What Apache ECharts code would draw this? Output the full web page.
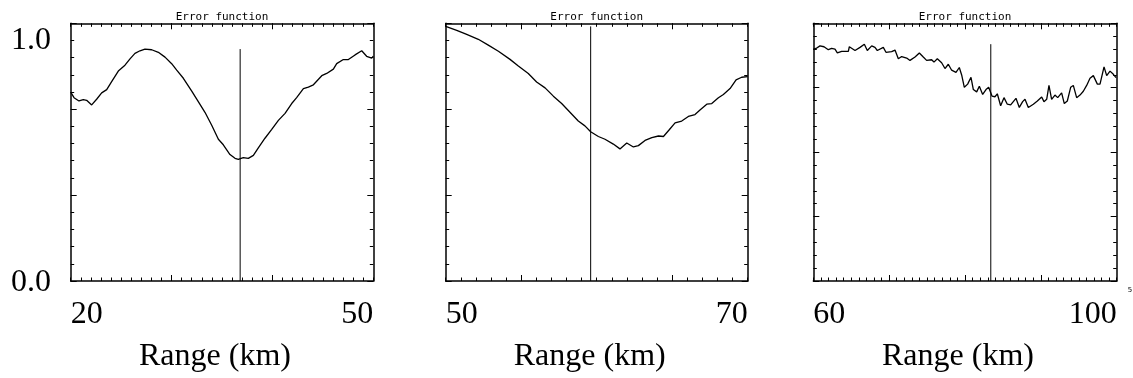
<!DOCTYPE html>
<html><head><meta charset="utf-8">
<script src="https://cdn.jsdelivr.net/npm/echarts@6/dist/echarts.min.js"></script>
<style>html,body{margin:0;padding:0;background:#fff}#c{width:1133px;height:378px}</style>
</head><body><div id="c"></div>
<script>
// ---- data ----
const range1 = [20.0,20.33,20.82,21.25,21.58,22.08,22.57,23.07,23.57,24.06,24.72,25.38,25.88,26.37,26.87,27.36,28.03,28.69,29.35,30.01,30.51,31.17,32.0,32.65,33.31,33.98,34.64,35.13,35.79,36.29,36.62,37.11,37.61,38.11,38.6,39.26,39.93,40.59,41.25,41.91,42.4,43.07,43.56,44.06,44.89,45.38,46.04,46.37,47.03,47.53,48.19,48.85,49.34,49.84,50.0];
const err1 = [1.099,1.067,1.048,1.056,1.052,1.025,1.058,1.095,1.114,1.161,1.222,1.256,1.293,1.325,1.34,1.35,1.346,1.331,1.303,1.265,1.227,1.18,1.105,1.044,0.982,0.907,0.825,0.793,0.736,0.714,0.708,0.718,0.714,0.731,0.775,0.831,0.882,0.935,0.976,1.033,1.067,1.12,1.129,1.142,1.195,1.208,1.233,1.265,1.289,1.289,1.316,1.34,1.308,1.297,1.308];

const range2 = [50.0,50.73,51.39,52.16,52.82,53.49,54.26,54.81,55.47,56.02,56.58,57.13,57.68,58.23,58.78,59.22,59.6,60.11,60.55,61.1,61.54,61.99,62.43,62.76,63.2,63.65,64.09,64.42,64.82,65.19,65.63,66.07,66.51,66.84,67.29,67.62,68.06,68.39,68.83,69.23,69.6,70.0];
const err2 = [1.482,1.459,1.435,1.407,1.373,1.337,1.29,1.252,1.208,1.158,1.124,1.076,1.033,0.982,0.931,0.903,0.869,0.841,0.825,0.797,0.769,0.803,0.78,0.788,0.818,0.835,0.844,0.841,0.882,0.92,0.931,0.958,0.969,0.995,1.029,1.033,1.067,1.086,1.12,1.171,1.186,1.19];

const range3 = [60.0,60.36,60.88,61.41,61.98,62.42,62.86,63.17,63.74,64.62,64.75,65.5,66.16,66.73,67.12,67.7,68.13,68.44,69.23,69.58,70.33,70.77,71.21,71.65,72.31,72.75,73.41,73.98,74.5,74.94,75.6,75.91,76.35,76.92,77.36,77.8,78.24,78.81,79.25,79.56,79.91,80.35,80.79,81.1,81.54,81.89,82.33,82.77,83.12,83.56,83.95,84.26,84.7,85.14,85.58,86.02,86.72,87.16,87.6,87.91,88.35,89.01,89.54,90.11,90.41,90.77,91.07,91.42,91.86,92.22,92.74,93.09,93.49,93.93,94.28,94.72,95.16,95.6,96.04,96.48,96.92,97.45,97.8,98.33,98.68,99.12,99.56,99.91];
const err3 = [1.8,1.805,1.825,1.818,1.795,1.805,1.8,1.77,1.782,1.782,1.818,1.789,1.813,1.838,1.789,1.825,1.813,1.789,1.813,1.775,1.78,1.792,1.725,1.742,1.73,1.712,1.738,1.77,1.738,1.712,1.717,1.699,1.725,1.694,1.649,1.682,1.636,1.619,1.657,1.599,1.503,1.528,1.581,1.486,1.468,1.511,1.448,1.486,1.503,1.435,1.43,1.453,1.36,1.423,1.372,1.367,1.418,1.347,1.392,1.41,1.347,1.372,1.397,1.428,1.392,1.41,1.518,1.41,1.443,1.423,1.46,1.377,1.397,1.503,1.518,1.423,1.443,1.473,1.518,1.574,1.594,1.528,1.528,1.662,1.594,1.629,1.604,1.579];

const cuts = [36.8, 59.6, 83.4];
const xLimits = [[20, 50], [50, 70], [60, 100]];
const xMajorTicks = [[30, 40], [55, 65], [70, 80, 90]];
const yMaxes = [1.5, 1.5, 2.0];
const yTickLabels = ['1.0', '0.0'];
const titleText = 'Error function';
const xName = 'Range (km)';

// ---- chart ----
const ranges = [range1, range2, range3];
const errs = [err1, err2, err3];
const grids = [
  {left: 70.7, top: 23.3, width: 302.6, height: 265.2},
  {left: 445.7, top: 23.3, width: 302, height: 265.2},
  {left: 813.3, top: 23.3, width: 303.4, height: 265.2}
];
const serif = '"Liberation Serif", "Times New Roman", serif';
const lineStyle = {color: '#000', width: 1.5};
const xAxes = [], yAxes = [], series = [], titles = [];

grids.forEach((g, i) => {
  const [mn, mx] = xLimits[i];
  const base = {type: 'value', gridIndex: i, min: mn, max: mx, interval: 1, splitLine: {show: false}};
  const tick = (len, custom) => Object.assign({show: true, inside: true, length: len,
    lineStyle: {color: '#000', width: 1}}, custom ? {customValues: custom} : {});
  // bottom: minor ticks + labels + name
  xAxes.push(Object.assign({}, base, {
    position: 'bottom',
    axisLine: {show: true, onZero: false, lineStyle},
    axisTick: tick(3.5),
    axisLabel: {show: true, customValues: [mn, mx], alignMinLabel: 'left', alignMaxLabel: 'right',
      color: '#000', fontFamily: serif, fontSize: 32, margin: 18},
    name: xName, nameLocation: 'middle', nameGap: 60,
    nameTextStyle: {color: '#000', fontFamily: serif, fontSize: 32, padding: [0, 14, 0, 0]}
  }));
  // top: minor ticks
  xAxes.push(Object.assign({}, base, {
    position: 'top',
    axisLine: {show: true, onZero: false, lineStyle},
    axisTick: tick(3.5),
    axisLabel: {show: false}
  }));
  // bottom major ticks
  xAxes.push(Object.assign({}, base, {
    position: 'bottom',
    axisLine: {show: false, onZero: false},
    axisTick: tick(6, xMajorTicks[i]),
    axisLabel: {show: false}
  }));
  // top major ticks
  xAxes.push(Object.assign({}, base, {
    position: 'top',
    axisLine: {show: false, onZero: false},
    axisTick: tick(6, xMajorTicks[i]),
    axisLabel: {show: false}
  }));
  const ybase = {type: 'value', gridIndex: i, min: 0, max: yMaxes[i], interval: 0.5,
    splitLine: {show: false}, axisLabel: {show: false},
    axisLine: {show: true, onZero: false, lineStyle},
    axisTick: tick(6),
    minorTick: {show: true, splitNumber: 5, length: 3.5, lineStyle: {color: '#000', width: 1}},
    minorSplitLine: {show: false}};
  yAxes.push(Object.assign({}, ybase, {position: 'left'}));
  yAxes.push(Object.assign({}, ybase, {position: 'right'}));

  const pts = ranges[i].map((x, k) => [x, errs[i][k]]);
  series.push({type: 'line', xAxisIndex: 4 * i, yAxisIndex: 2 * i, data: pts,
    symbol: 'none', lineStyle: {color: '#000', width: 1.3}, animation: false, silent: true});
  const top = Math.max(...errs[i]);
  series.push({type: 'line', xAxisIndex: 4 * i, yAxisIndex: 2 * i,
    data: [[cuts[i], 0], [cuts[i], top]],
    symbol: 'none', lineStyle: {color: '#000', width: 1}, animation: false, silent: true});

  titles.push({text: titleText, left: g.left + g.width / 2, top: 11.2, textAlign: 'center', padding: 0,
    textStyle: {color: '#000', fontFamily: '"DejaVu Sans Mono", monospace', fontSize: 11, fontWeight: 'normal'}});
});

const chart = echarts.init(document.getElementById('c'), null, {renderer: 'canvas'});
chart.setOption({
  backgroundColor: '#fff',
  animation: false,
  title: titles,
  grid: grids,
  xAxis: xAxes,
  yAxis: yAxes,
  series: series,
  graphic: [
    {type: 'text', style: {text: yTickLabels[0], x: 51, y: 40.3, fill: '#000', font: '32px ' + serif, align: 'right', verticalAlign: 'middle'}},
    {type: 'text', style: {text: yTickLabels[1], x: 51, y: 282.5, fill: '#000', font: '32px ' + serif, align: 'right', verticalAlign: 'middle'}},
    {type: 'text', style: {text: '5', x: 1130, y: 290, fill: '#000', font: '7px "DejaVu Sans"', align: 'center', verticalAlign: 'middle'}}
  ]
});
</script></body></html>
